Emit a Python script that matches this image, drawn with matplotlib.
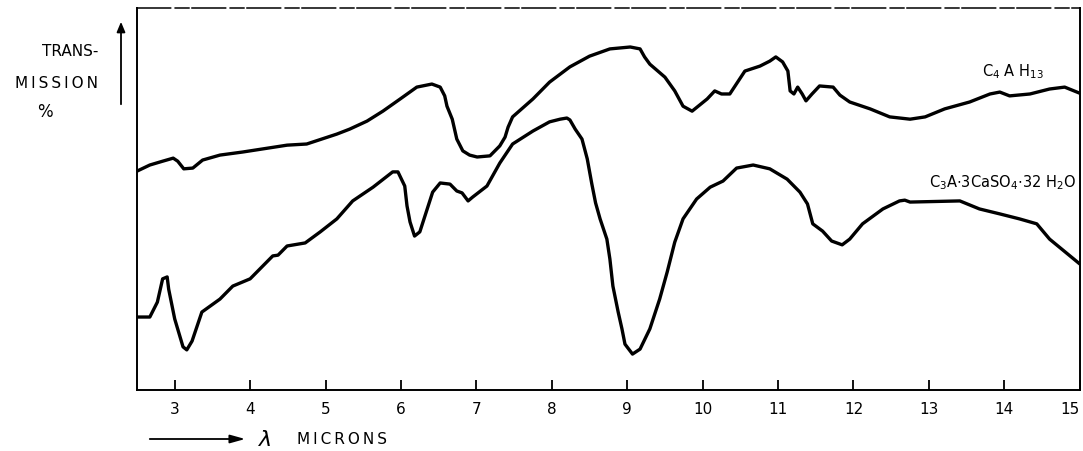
import matplotlib
matplotlib.use("Agg")
import matplotlib.pyplot as plt
from matplotlib.patches import FancyArrowPatch

# Infrared transmission spectra (wavelength in microns, transmission in relative %)
wl_c4ah13 = [2.50, 2.67, 2.84, 2.98, 3.04, 3.12, 3.24, 3.37, 3.60, 3.90, 4.49, 4.75,
             5.15, 5.32, 5.55, 5.76, 5.99, 6.21, 6.41, 6.52, 6.58, 6.61, 6.68, 6.74,
             6.82, 6.91, 7.01, 7.18, 7.31, 7.38, 7.42, 7.48, 7.75, 7.97, 8.24, 8.50,
             8.77, 9.04, 9.17, 9.23, 9.30, 9.50, 9.63, 9.74, 9.86, 9.96, 10.06, 10.16,
             10.25, 10.36, 10.56, 10.76, 10.89, 10.97, 11.06, 11.13, 11.16, 11.21,
             11.26, 11.32, 11.37, 11.45, 11.55, 11.73, 11.82, 11.95, 12.22, 12.48,
             12.75, 12.95, 13.21, 13.54, 13.81, 13.94, 14.07, 14.34, 14.60, 14.80, 15.00]
tr_c4ah13 = [57.3, 58.9, 59.9, 60.7, 59.9, 57.9, 58.1, 60.2, 61.5, 62.3, 64.1, 64.4,
             67.0, 68.3, 70.4, 73.0, 76.2, 79.3, 80.1, 79.3, 77.0, 74.3, 70.9, 65.7,
             62.6, 61.5, 61.0, 61.3, 63.9, 66.2, 68.8, 71.5, 76.2, 80.6, 84.6, 87.4,
             89.3, 89.8, 89.3, 87.2, 85.3, 81.9, 78.3, 74.3, 73.0, 74.6, 76.2, 78.3,
             77.5, 77.5, 83.5, 84.8, 86.1, 87.2, 85.9, 83.5, 78.3, 77.5,
             79.3, 77.5, 75.7, 77.5, 79.6, 79.3, 77.2, 75.4, 73.6, 71.5,
             70.9, 71.5, 73.6, 75.4, 77.5, 78.0, 77.0, 77.5, 78.8, 79.3, 77.7]

wl_ettr = [2.50, 2.67, 2.77, 2.84, 2.90, 2.92, 3.00, 3.11, 3.16, 3.23, 3.36, 3.60,
           3.77, 4.00, 4.13, 4.30, 4.37, 4.49, 4.73, 4.93, 5.15, 5.36, 5.63, 5.89,
           5.96, 6.05, 6.08, 6.12, 6.18, 6.25, 6.42, 6.52, 6.65, 6.74, 6.81, 6.89,
           6.95, 7.14, 7.31, 7.48, 7.75, 7.97, 8.11, 8.20, 8.24, 8.31, 8.40, 8.47,
           8.53, 8.58, 8.64, 8.73, 8.77, 8.81, 8.88, 8.93, 8.97, 9.07, 9.17, 9.30,
           9.43, 9.53, 9.63, 9.74, 9.92, 10.10, 10.27, 10.45, 10.67, 10.89, 11.12,
           11.29, 11.39, 11.46, 11.59, 11.71, 11.85, 11.95, 12.12, 12.39, 12.61,
           12.68, 12.75, 13.41, 13.67, 13.94, 14.20, 14.43, 14.60, 15.00]
tr_ettr = [19.1, 19.1, 23.0, 29.1, 29.6, 26.4, 18.6, 11.3, 10.5, 12.8, 20.4, 23.8,
           27.2, 29.1, 31.7, 35.1, 35.3, 37.7, 38.5, 41.4, 44.8, 49.5, 53.1, 57.1,
           57.1, 53.4, 48.2, 44.0, 40.3, 41.4, 51.8, 54.2, 53.9, 52.1, 51.6, 49.5,
           50.5, 53.4, 59.4, 64.4, 67.8, 70.2, 70.9, 71.2, 70.7, 68.3, 65.7, 60.5,
           54.0, 49.0, 44.8, 39.5, 34.3, 27.2, 20.4, 16.0, 12.0, 9.4, 10.7, 16.0,
           23.8, 30.9, 38.7, 44.8, 50.0, 53.1, 54.7, 58.1, 58.9, 57.9, 55.2,
           51.8, 48.7, 43.5, 41.6, 39.0, 38.0, 39.5, 43.5, 47.4, 49.5,
           49.7, 49.2, 49.5, 47.4, 46.1, 44.8, 43.5, 39.5, 33.0]

xticks = list(range(3, 16))
xtick_labels = [str(t) for t in xticks]

THIN = "\u2009"

fig = plt.figure(figsize=(10.83, 4.52), dpi=100)
ax = fig.add_axes([0.1265, 0.135, 0.8705, 0.845])

line_kw = dict(color="black", lw=2.4, solid_joinstyle="round", solid_capstyle="round")
ax.plot(wl_c4ah13, tr_c4ah13, **line_kw)
ax.plot(wl_ettr, tr_ettr, **line_kw)

ax.set_xlim(2.5, 15.0)
ax.set_ylim(0, 100)
ax.set_xticks(xticks)
ax.set_xticklabels(xtick_labels, fontsize=11)
ax.get_xticklabels()[-1].set_horizontalalignment("right")
ax.set_yticks([])
ax.tick_params(axis="x", direction="in", length=7, width=1.3, pad=8)

for side in ("left", "right", "bottom"):
    ax.spines[side].set_linewidth(1.4)
ax.spines["top"].set_linewidth(1.1)
ax.spines["top"].set_linestyle((0, (22, 3, 9, 2)))

# curve labels
ax.text(13.7, 83.5, r"C$_4$ A H$_{13}$", fontsize=10.5, va="center", ha="left")
ax.text(14.95, 54.5, r"C$_3$A$\cdot$3CaSO$_4$$\cdot$32 H$_2$O",
        fontsize=10.5, va="center", ha="right")

# y-axis caption with upward arrow
fig.text(98 / 1083, 1 - 52 / 452, "TRANS-", fontsize=11, ha="right", va="center")
fig.text(98 / 1083, 1 - 83 / 452, THIN.join("MISSION"), fontsize=11, ha="right", va="center")
fig.text(45 / 1083, 1 - 112 / 452, "%", fontsize=12, ha="center", va="center")
fig.add_artist(FancyArrowPatch(
    (121 / 1083, 1 - 108 / 452), (121 / 1083, 1 - 20 / 452),
    transform=fig.transFigure, arrowstyle="-|>,head_length=6,head_width=2.5",
    color="black", lw=1.3, mutation_scale=1))

# x-axis caption with rightward arrow
fig.add_artist(FancyArrowPatch(
    (147 / 1083, 1 - 440 / 452), (248 / 1083, 1 - 440 / 452),
    transform=fig.transFigure, arrowstyle="-|>,head_length=9,head_width=2.5",
    color="black", lw=1.3, mutation_scale=1))
fig.text(258 / 1083, 1 - 440 / 452, r"$\lambda$", fontsize=16, ha="left", va="center")
fig.text(297 / 1083, 1 - 440 / 452, THIN.join("MICRONS"), fontsize=11, ha="left", va="center")

fig.savefig("out.png", dpi=100)
